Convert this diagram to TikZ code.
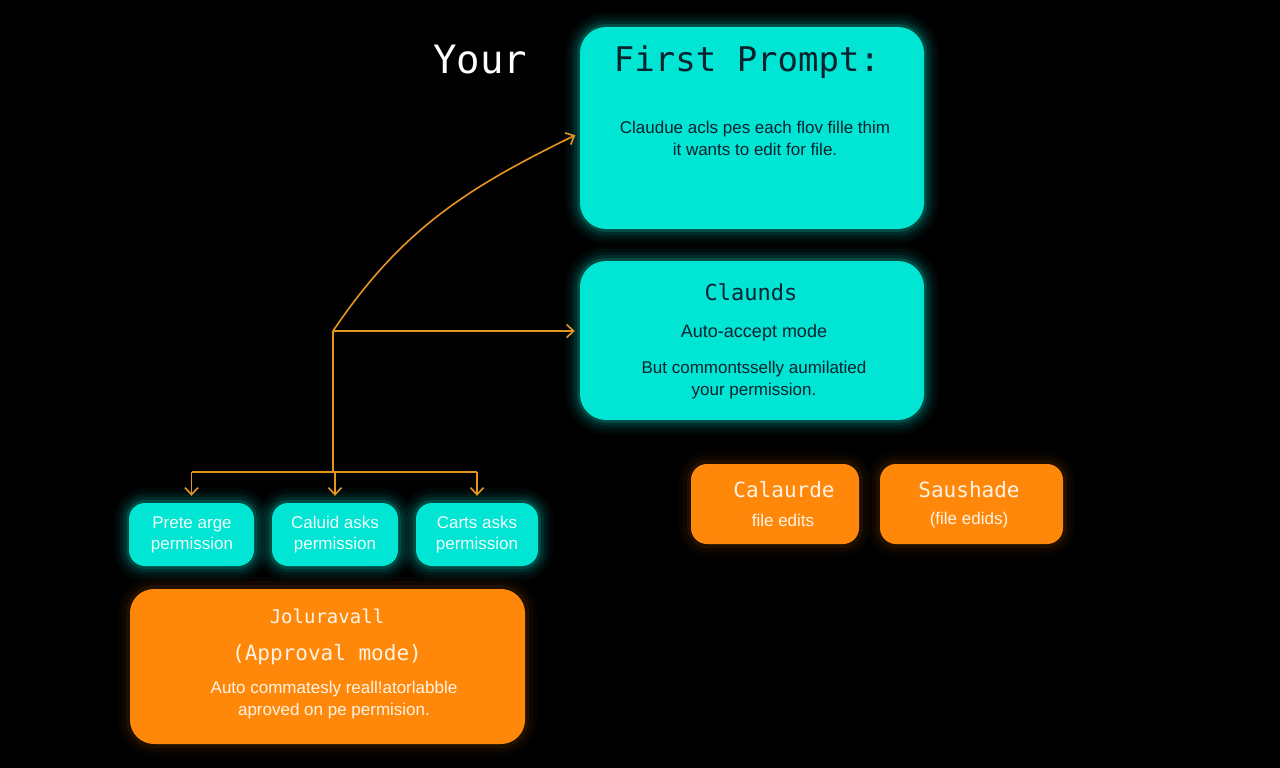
\documentclass[tikz,border=0pt]{standalone}
\usepackage{fontspec}
\setmainfont{Liberation Sans}
\newfontfamily\monofont{DejaVu Sans Mono}
\usetikzlibrary{arrows.meta}

\definecolor{cyanbox}{RGB}{0,229,212}
\definecolor{orangebox}{RGB}{255,136,10}
\definecolor{flowline}{RGB}{232,148,32}
\definecolor{darktext}{RGB}{10,34,46}
\definecolor{lighttext}{RGB}{240,255,252}
\definecolor{warmtext}{RGB}{255,244,230}

\begin{document}
\begin{tikzpicture}[x=1pt, y=-1pt,
    >={Straight Barb[length=7pt,width=13pt]},
    cyanglow/.style={preaction={draw=cyanbox, line width=30pt, opacity=0.03},
                     preaction={draw=cyanbox, line width=24pt, opacity=0.04},
                     preaction={draw=cyanbox, line width=18pt, opacity=0.06},
                     preaction={draw=cyanbox, line width=12pt, opacity=0.09},
                     preaction={draw=cyanbox, line width=6pt, opacity=0.16}},
    orangeglow/.style={preaction={draw=orangebox!70!black, line width=24pt, opacity=0.04},
                       preaction={draw=orangebox!70!black, line width=16pt, opacity=0.06},
                       preaction={draw=orangebox!70!black, line width=8pt, opacity=0.10}},
    cyanbox/.style={cyanglow, fill=cyanbox, rounded corners=#1, inner sep=0pt},
    orangebox/.style={orangeglow, fill=orangebox, rounded corners=#1, inner sep=0pt},
    mono/.style={font=\monofont\fontsize{#1}{#1}\selectfont},
    sans/.style={font=\fontsize{#1}{#1}\selectfont, align=center},
    flow/.style={draw=flowline, line width=1.6pt}
  ]
    % Fondo
    \fill[black] (0,0) rectangle (1280,768);
    \useasboundingbox (0,0) rectangle (1280,768);

    % Cajas cian grandes
    \node[cyanbox=26pt, minimum width=344pt, minimum height=202pt] (prompt) at (752,128) {};
    \node[cyanbox=26pt, minimum width=344pt, minimum height=159pt] (mode) at (752,340.5) {};

    % Cajas naranjas pequenas
    \node[orangebox=16pt, minimum width=168pt, minimum height=80pt] (calaurde) at (775,504) {};
    \node[orangebox=16pt, minimum width=183pt, minimum height=80pt] (saushade) at (971.5,504) {};

    % Cajas cian pequenas
    \node[cyanbox=16pt, minimum width=125pt, minimum height=63pt] (perm1) at (191.5,534.5) {};
    \node[cyanbox=16pt, minimum width=126pt, minimum height=63pt] (perm2) at (335,534.5) {};
    \node[cyanbox=16pt, minimum width=122pt, minimum height=63pt] (perm3) at (477,534.5) {};

    % Caja naranja grande
    \node[orangebox=24pt, minimum width=395pt, minimum height=155pt] (approval) at (327.5,666.5) {};

    % Textos
    \node[mono=39, text=white] (your) at (480,60) {Your};
    \node[mono=34, text=darktext] (prompttitle) at (747,62) {First Prompt:};
    \node[sans=17, text=darktext] (prompttext) at (755,138)
        {Claudue acls pes each flov fille thim\\[5pt]it wants to edit for file.};

    \node[mono=22, text=darktext] (modetitle) at (751,292) {Claunds};
    \node[font=\fontsize{18}{18}\selectfont, text=darktext] (modename) at (754,333) {Auto-accept mode};
    \node[sans=17, text=darktext] (modetext) at (754,380)
        {But commontsselly aumilatied\\[5pt]your permission.};

    \node[mono=21, text=warmtext] (calaurdetitle) at (784,490) {Calaurde};
    \node[sans=17, text=warmtext] (calaurdetext) at (783,520) {file edits};
    \node[mono=21, text=warmtext] (saushadetitle) at (969,490) {Saushade};
    \node[sans=17, text=warmtext] (saushadetext) at (969,520) {(file edids)};

    \node[sans=17, text=lighttext] (perm1text) at (192,534.5) {Prete arge\\[4pt]permission};
    \node[sans=17, text=lighttext] (perm2text) at (335,534.5) {Caluid asks\\[4pt]permission};
    \node[sans=17, text=lighttext] (perm3text) at (477,534.5) {Carts asks\\[4pt]permission};

    \node[mono=19, text=warmtext] (approvaltitle) at (327,616) {Joluravall};
    \node[mono=21, text=warmtext] (approvalname) at (327,655) {(Approval mode)};
    \node[sans=17, text=warmtext] (approvaltext) at (334,700)
        {Auto commatesly reall!atorlabble\\[5pt]aproved on pe permision.};

    % Flechas
    \coordinate (split) at (333,331);
    \coordinate (bar) at (333,472);
    \draw[flow, ->, shorten >=5pt] (split) to[out=56, in=206] ([yshift=-5pt]prompt.west);
    \draw[flow, ->, shorten >=5pt] (split) -- (split -| mode.west);
    \draw[flow] (split) -- (bar);
    \draw[flow] (bar -| perm1.north) -- (bar -| perm3.north);
    \foreach \p in {perm1, perm2, perm3}
        \draw[flow, ->, shorten >=7pt] (bar -| \p.north) -- (\p.north);
\end{tikzpicture}
\end{document}
